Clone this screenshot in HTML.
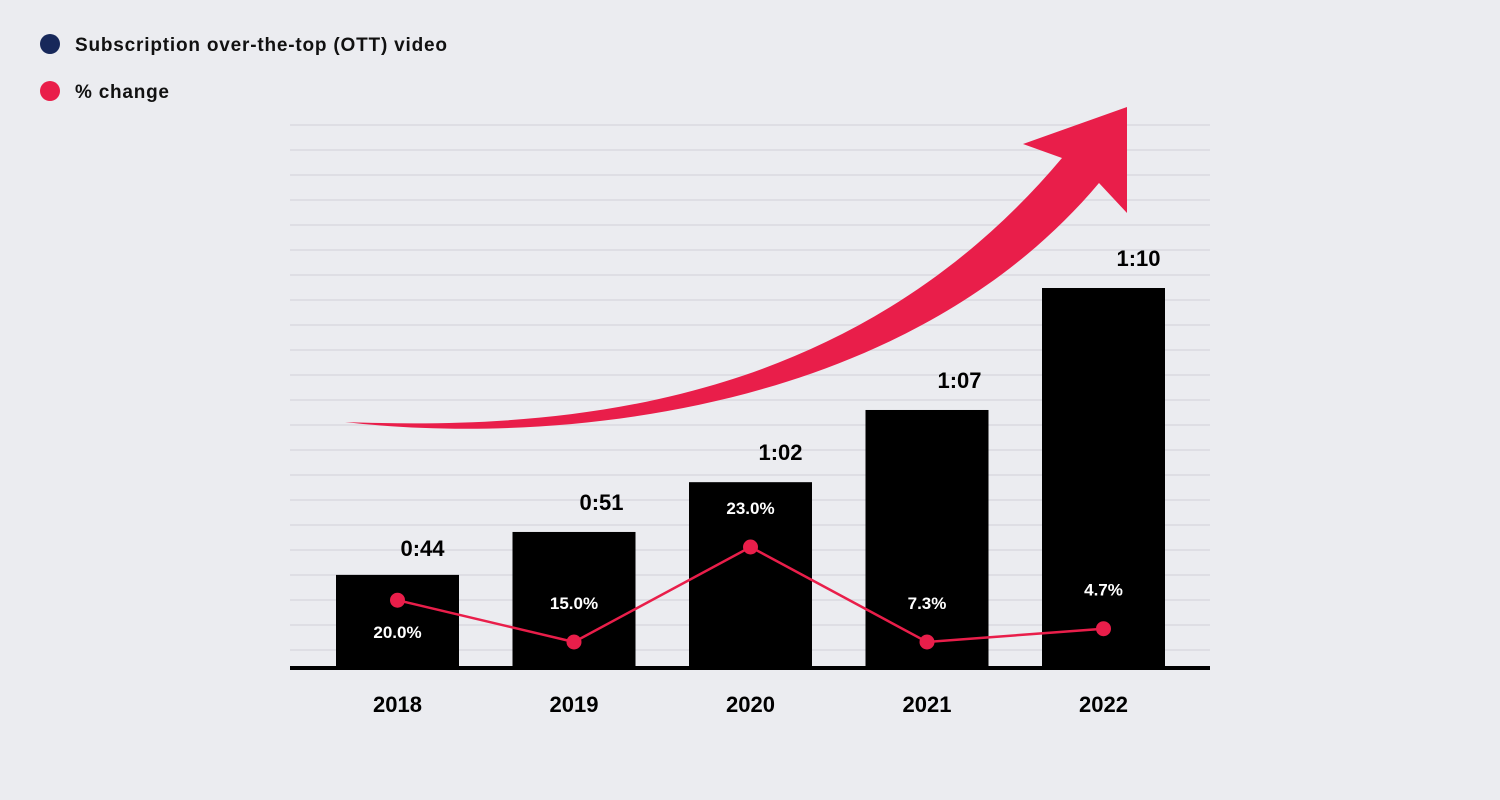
<!DOCTYPE html>
<html><head><meta charset="utf-8"><style>
body{margin:0;background:#ebecf0;font-family:"Liberation Sans",sans-serif;}
svg{display:block}
text{font-family:"Liberation Sans",sans-serif;font-weight:bold}
</style></head><body>
<svg id="chart" width="1500" height="800" viewBox="0 0 1500 800">
<rect width="1500" height="800" fill="#ebecf0"/>
<g>
<g><circle cx="50" cy="44" r="10" fill="#17285a"/><text x="75" y="51" font-size="19" textLength="372" fill="#111">Subscription over-the-top (OTT) video</text></g>
<g><circle cx="50" cy="91" r="10" fill="#e91e4a"/><text x="75" y="98" font-size="19" textLength="94" fill="#111">% change</text></g>
</g>
<g id="grid"></g>
<path fill="#e91e4a" d="M345,422 C560,430 850,410 1062,158 L1023,144 L1127,107 L1127,213 L1099,183 C900,420 540,445 345,422 Z"/>
<g id="bars"></g>
<line x1="290" x2="1210" y1="668" y2="668" stroke="#000" stroke-width="4"/>
<g id="line"></g>
<g id="xlabels"></g>
</svg>
<script>
const categories=["2018","2019","2020","2021","2022"];
const barLabels=["0:44","0:51","1:02","1:07","1:10"];
const barValues=[24.5,35.8,48.9,67.9,100];
const changeLabels=["20.0%","15.0%","23.0%","7.3%","4.7%"];
const changeValues=[44,0,100,0,14];
const NS="http://www.w3.org/2000/svg";
function mk(t,a,p){const e=document.createElementNS(NS,t);for(const k in a)e.setAttribute(k,a[k]);p.appendChild(e);return e;}
const base=668, barTop=288;
const yBar=v=>base-(v/100)*(base-barTop);
const yLine=v=>642-(v/100)*(642-547);
const xC=i=>397.5+i*176.5;
const bw=123;
const grid=document.getElementById('grid');
for(let y=125;y<=650;y+=25){const l=mk('line',{x1:290,x2:1210,y1:y,y2:y,stroke:'#d9dadf','stroke-width':1.5},grid);

}
const bars=document.getElementById('bars');
const xl=document.getElementById('xlabels');
categories.forEach((c,i)=>{
const y=yBar(barValues[i]);
const r=mk('rect',{x:xC(i)-bw/2,y:y,width:bw,height:base-y,fill:'#000'},bars);


const t=mk('text',{x:xC(i)+25+i*2.5,y:y-19-(i>0?3:0),'font-size':22,'text-anchor':'middle',fill:'#000'},bars);t.textContent=barLabels[i];


const tx=mk('text',{x:xC(i),y:712,'font-size':22,'text-anchor':'middle',fill:'#000'},xl);tx.textContent=c;


});
const lg=document.getElementById('line');
const pts=changeValues.map((v,i)=>xC(i)+','+yLine(v)).join(' ');
const pl=mk('polyline',{points:pts,fill:'none',stroke:'#e91e4a','stroke-width':2.5},lg);


changeValues.forEach((v,i)=>{
const y=yLine(v);
const c=mk('circle',{cx:xC(i),cy:y,r:7.5,fill:'#e91e4a'},lg);


const ly=i===0?y+38:y-33;
const t=mk('text',{x:xC(i),y:ly,'font-size':17,'text-anchor':'middle',fill:'#fff'},lg);t.textContent=changeLabels[i];


});
</script>
</body></html>
